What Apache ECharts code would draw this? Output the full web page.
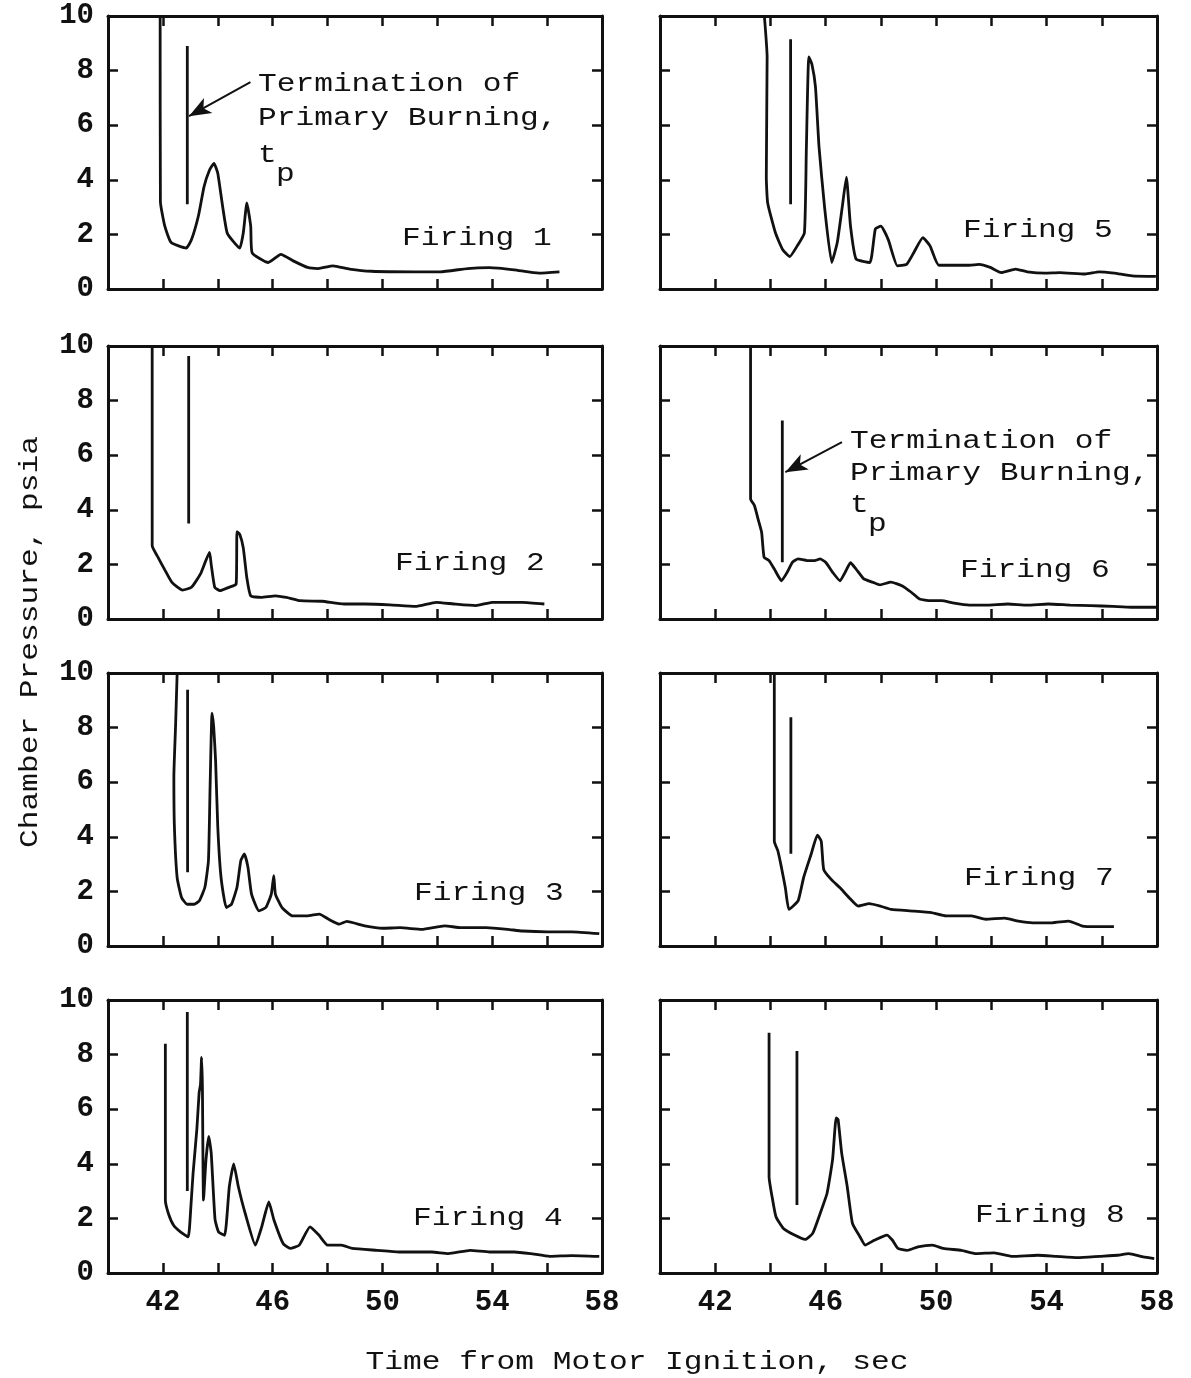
<!DOCTYPE html>
<html>
<head>
<meta charset="utf-8">
<script src="https://cdn.jsdelivr.net/npm/echarts@6/dist/echarts.min.js"></script>
<style>
  html, body { margin: 0; padding: 0; background: #fff; }
  #chart { width: 1191px; height: 1378px; }
</style>
</head>
<body>
<div id="chart"></div>
<script>
// [time sec, chamber pressure psia]
const firing1 = [[41.9,10],[41.91,3.2],[42.07,2.3],[42.3,1.7],[42.85,1.5],[43.04,1.8],[43.3,2.7],[43.5,3.75],[43.7,4.36],[43.86,4.6],[44.0,4.24],[44.34,2.06],[44.8,1.5],[44.93,2.06],[45.06,3.15],[45.2,2.3],[45.25,1.33],[45.84,0.97],[46.3,1.27],[46.75,1.03],[47.27,0.79],[47.66,0.75],[48.2,0.85],[48.8,0.73],[49.6,0.65],[51.2,0.63],[52.1,0.63],[53.1,0.75],[53.9,0.78],[54.8,0.7],[55.7,0.58],[56.45,0.63]];
const firing2 = [[41.61,10],[41.61,2.68],[41.8,2.3],[42.07,1.8],[42.33,1.34],[42.72,1.06],[43.04,1.16],[43.37,1.65],[43.7,2.44],[43.76,2.0],[43.89,1.16],[44.08,1.04],[44.41,1.16],[44.67,1.28],[44.7,3.2],[44.8,3.1],[44.93,2.6],[45.06,1.5],[45.2,0.85],[45.58,0.79],[46.1,0.85],[46.5,0.79],[47.0,0.67],[47.8,0.65],[48.6,0.55],[49.36,0.55],[50.27,0.52],[51.2,0.46],[51.96,0.61],[52.6,0.55],[53.4,0.49],[54.0,0.61],[55.1,0.61],[55.9,0.55]];
const firing3 = [[42.52,10],[42.46,8.0],[42.4,6.2],[42.42,4.36],[42.52,2.5],[42.68,1.78],[42.88,1.53],[43.14,1.53],[43.33,1.66],[43.53,2.15],[43.66,3.13],[43.72,5.83],[43.79,8.53],[43.85,8.04],[43.92,6.8],[44.0,4.36],[44.12,2.5],[44.31,1.41],[44.5,1.53],[44.7,2.15],[44.84,3.13],[44.97,3.37],[45.1,2.88],[45.23,1.9],[45.5,1.29],[45.75,1.41],[45.95,1.9],[46.04,2.58],[46.1,1.9],[46.34,1.41],[46.73,1.1],[47.25,1.1],[47.7,1.17],[48.04,0.98],[48.43,0.8],[48.7,0.9],[49.35,0.74],[50.0,0.65],[50.64,0.67],[51.43,0.61],[52.27,0.74],[52.86,0.67],[53.78,0.67],[54.56,0.61],[55.1,0.55],[56.0,0.52],[56.9,0.52],[57.9,0.45]];
const firing4 = [[42.09,8.4],[42.09,2.67],[42.2,2.18],[42.39,1.75],[42.65,1.5],[42.92,1.32],[43.02,2.43],[43.1,3.65],[43.24,5.3],[43.32,6.6],[43.37,6.9],[43.41,7.9],[43.44,6.8],[43.48,2.67],[43.57,4.14],[43.67,5.0],[43.76,4.4],[43.9,1.96],[44.03,1.5],[44.25,1.38],[44.42,3.16],[44.58,4.0],[44.75,3.16],[45.0,2.18],[45.37,1.02],[45.6,1.69],[45.86,2.6],[46.05,1.93],[46.38,1.08],[46.64,0.9],[46.97,1.02],[47.36,1.69],[47.69,1.38],[48.0,1.02],[48.5,1.02],[48.9,0.9],[49.8,0.83],[50.6,0.77],[51.8,0.77],[52.4,0.71],[53.2,0.83],[53.9,0.77],[54.8,0.77],[55.4,0.71],[56.1,0.61],[56.9,0.64],[57.9,0.61]];
const firing5 = [[43.78,10],[43.88,8.5],[43.85,4.1],[43.9,3.15],[44.18,2.06],[44.44,1.45],[44.7,1.19],[44.97,1.58],[45.23,2.06],[45.3,5.1],[45.39,8.5],[45.5,8.24],[45.63,7.4],[45.76,5.2],[45.96,3.0],[46.22,0.97],[46.42,1.7],[46.6,3.0],[46.75,4.1],[46.9,2.3],[47.1,1.1],[47.6,0.97],[47.8,2.2],[48.0,2.3],[48.27,1.8],[48.6,0.85],[48.93,0.9],[49.19,1.33],[49.52,1.88],[49.78,1.58],[50.1,0.87],[51.2,0.87],[51.56,0.9],[51.96,0.79],[52.36,0.6],[52.88,0.73],[53.3,0.63],[53.94,0.58],[54.47,0.6],[55.4,0.55],[55.9,0.63],[56.45,0.58],[57.1,0.48],[57.96,0.46]];
const firing6 = [[43.28,10],[43.28,4.4],[43.42,4.16],[43.55,3.67],[43.68,3.18],[43.77,2.26],[43.95,2.14],[44.14,1.83],[44.4,1.4],[44.6,1.7],[44.8,2.08],[45.0,2.2],[45.33,2.14],[45.6,2.14],[45.8,2.2],[46.0,2.08],[46.26,1.7],[46.52,1.4],[46.7,1.7],[46.9,2.06],[47.1,1.83],[47.38,1.47],[47.7,1.35],[47.97,1.25],[48.36,1.35],[48.76,1.22],[49.1,0.98],[49.4,0.73],[49.8,0.67],[50.2,0.67],[50.6,0.59],[51.2,0.51],[51.8,0.51],[52.6,0.55],[53.3,0.51],[54.06,0.55],[54.86,0.51],[55.6,0.49],[56.4,0.46],[57.07,0.43],[57.97,0.43]];
const firing7 = [[44.14,10],[44.14,3.84],[44.27,3.48],[44.4,2.87],[44.54,2.13],[44.67,1.34],[45.0,1.65],[45.2,2.5],[45.47,3.35],[45.7,4.06],[45.84,3.84],[45.93,2.8],[46.2,2.44],[46.52,2.13],[46.85,1.77],[47.18,1.46],[47.58,1.55],[47.98,1.46],[48.37,1.34],[49.17,1.28],[49.83,1.22],[50.36,1.1],[51.28,1.1],[51.8,0.98],[52.47,1.02],[52.98,0.91],[53.5,0.85],[54.2,0.85],[54.8,0.91],[55.3,0.73],[55.78,0.71],[56.44,0.71]];
const firing8 = [[43.95,8.8],[43.95,3.53],[44.08,2.67],[44.2,2.06],[44.47,1.63],[44.87,1.39],[45.26,1.23],[45.53,1.45],[45.8,2.18],[46.05,2.92],[46.25,4.15],[46.38,5.68],[46.45,5.62],[46.58,4.39],[46.78,3.17],[46.97,1.82],[47.24,1.33],[47.43,1.02],[47.76,1.2],[48.22,1.39],[48.42,1.2],[48.62,0.9],[48.95,0.83],[49.34,0.96],[49.87,1.02],[50.26,0.9],[50.92,0.83],[51.45,0.71],[52.1,0.74],[52.76,0.61],[53.68,0.65],[54.34,0.61],[55.13,0.56],[55.92,0.61],[56.58,0.65],[56.97,0.71],[57.5,0.59],[57.9,0.53]];

// panel order: left column firings 1-4, right column firings 5-8
const firings = [firing1, firing2, firing3, firing4, firing5, firing6, firing7, firing8];
const firingNames = ['Firing 1', 'Firing 2', 'Firing 3', 'Firing 4', 'Firing 5', 'Firing 6', 'Firing 7', 'Firing 8'];

// termination of primary burning marker, t_p
const tpTime = [42.89, 42.94, 42.9, 42.89, 44.73, 44.43, 44.74, 44.96];
const tpTop = [8.9, 9.63, 9.39, 9.56, 9.15, 7.27, 8.38, 8.13];
const tpBottom = [3.1, 3.5, 2.7, 3.0, 3.1, 2.08, 3.38, 2.49];

// arrow pointing at the t_p line (only panels 1 and 6)
const arrowFrom = { 0: [45.19, 7.58], 5: [46.59, 6.48] };
const arrowTo = { 0: [42.95, 6.33], 5: [44.54, 5.38] };

const xLabelTicks = [42, 46, 50, 54, 58];
const timeMin = 40, timeMax = 58, timeStep = 2;
const pressMin = 0, pressMax = 10, pressStep = 2;

const chart = echarts.init(document.getElementById('chart'));

const colLeft = [108, 660];
const colWidth = [494, 497];
const rowTop = [16, 346, 673, 1000];
const rowHeight = 273;
const INK = '#111';
const MONO = '"Liberation Mono", "DejaVu Sans Mono", monospace';

const grid = [], xAxis = [], yAxis = [], series = [];

firings.forEach((data, i) => {
  const col = i < 4 ? 0 : 1;
  const row = i % 4;
  grid.push({ left: colLeft[col], top: rowTop[row], width: colWidth[col], height: rowHeight });

  const frame = { show: true, onZero: false, lineStyle: { color: INK, width: 3 } };
  const tick = { show: true, inside: true, length: 10, lineStyle: { color: INK, width: 2.5 } };
  const xBase = { type: 'value', gridIndex: i, min: timeMin, max: timeMax, interval: timeStep,
    axisLine: frame, axisTick: tick, splitLine: { show: false } };
  const yBase = { type: 'value', gridIndex: i, min: pressMin, max: pressMax, interval: pressStep,
    axisLine: frame, axisTick: tick, splitLine: { show: false } };

  xAxis.push(Object.assign({}, xBase, {
    position: 'bottom',
    axisLabel: {
      show: row === 3, margin: 15, color: INK, fontFamily: MONO, fontSize: 29, fontWeight: 'bold',
      showMinLabel: true, showMaxLabel: true,
      formatter: v => xLabelTicks.indexOf(v) >= 0 ? String(v) : ''
    }
  }));
  xAxis.push(Object.assign({}, xBase, { position: 'top', axisLabel: { show: false } }));
  yAxis.push(Object.assign({}, yBase, {
    position: 'left',
    axisLabel: { show: col === 0, margin: 14, color: INK, fontFamily: MONO, fontSize: 29, fontWeight: 'bold' }
  }));
  yAxis.push(Object.assign({}, yBase, { position: 'right', axisLabel: { show: false } }));

  series.push({
    type: 'line', xAxisIndex: 2 * i, yAxisIndex: 2 * i, data: data,
    showSymbol: false, smooth: 0.15, lineStyle: { color: INK, width: 2.8 }, silent: true
  });

  const tp = {
    type: 'line', xAxisIndex: 2 * i, yAxisIndex: 2 * i,
    data: [[tpTime[i], tpTop[i]], [tpTime[i], tpBottom[i]]],
    showSymbol: false, lineStyle: { color: INK, width: 2.8 }, silent: true
  };
  if (arrowFrom[i]) {
    tp.markLine = {
      silent: true, symbol: ['none', 'arrow'], symbolSize: [13, 22],
      label: { show: false },
      lineStyle: { color: INK, width: 2, type: 'solid' },
      data: [[{ coord: arrowFrom[i] }, { coord: arrowTo[i] }]]
    };
  }
  series.push(tp);
});

function label(x, y, text, extra) {
  return Object.assign({
    type: 'text', x: x, y: y, scaleX: 1.2, silent: true,
    style: { text: text, font: '26px ' + MONO, fill: INK, verticalAlign: 'middle' }
  }, extra || {});
}

const firingLabelPos = [[402, 238], [395, 563], [414, 893], [413, 1218], [963, 230], [960, 570], [964, 878], [975, 1215]];
const graphic = firingNames.map((n, i) => label(firingLabelPos[i][0], firingLabelPos[i][1], n));

// "Termination of Primary Burning, t_p" notes
[[258, 84, 118, 155, 174], [850, 441, 473, 505, 524]].forEach(p => {
  graphic.push(label(p[0], p[1], 'Termination of'));
  graphic.push(label(p[0], p[2], 'Primary Burning,'));
  graphic.push(label(p[0], p[3], 't'));
  graphic.push(label(p[0] + 18, p[4], 'p'));
});

graphic.push(label(637, 1362, 'Time from Motor Ignition, sec', {
  style: { text: 'Time from Motor Ignition, sec', font: '26px ' + MONO, fill: INK, align: 'center', verticalAlign: 'middle' }
}));
graphic.push(label(30, 642, 'Chamber Pressure, psia', {
  rotation: Math.PI / 2,
  style: { text: 'Chamber Pressure, psia', font: '26px ' + MONO, fill: INK, align: 'center', verticalAlign: 'middle' }
}));

chart.setOption({
  animation: false,
  backgroundColor: '#fff',
  grid: grid,
  xAxis: xAxis,
  yAxis: yAxis,
  series: series,
  graphic: graphic
});
</script>
</body>
</html>
